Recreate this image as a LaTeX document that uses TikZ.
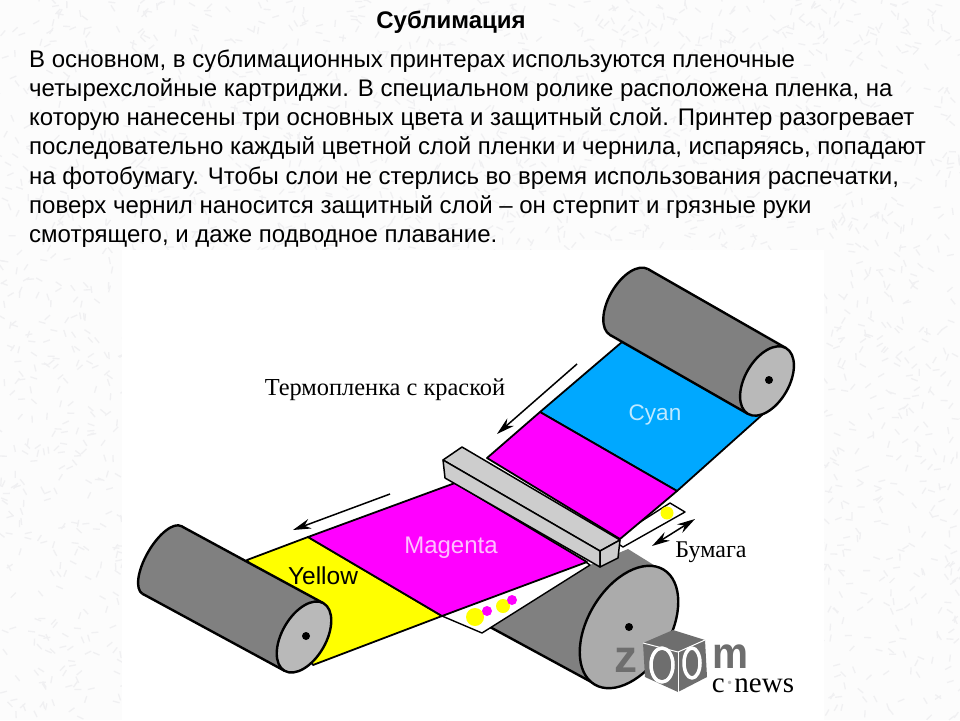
\documentclass[tikz,border=0pt]{standalone}
\usepackage{fontspec}
\setmainfont{Liberation Sans}
\newfontfamily\labelfont{Liberation Serif}
\usetikzlibrary{arrows.meta, calc}
\definecolor{pagegrey}{HTML}{FCFCFC}
\definecolor{speckle}{HTML}{F0F0F2}
\definecolor{rollerdark}{HTML}{808080}
\definecolor{rollerend}{HTML}{B9B9B9}
\definecolor{bigend}{HTML}{ABABAB}
\definecolor{bargrey}{HTML}{CDCDCD}
\definecolor{filmcyan}{HTML}{00A8FF}
\definecolor{filmmagenta}{HTML}{FF00FF}
\definecolor{filmyellow}{HTML}{FFFF00}
\definecolor{logogrey}{HTML}{6E6E6E}

\begin{document}
\begin{tikzpicture}[x=1pt, y=-1pt,
				line join=round,
				film/.style={draw=black, line width=1.8pt},
				rollerline/.style={draw=black, line width=2.4pt},
				barface/.style={draw=black, fill=bargrey, line width=1.5pt},
				motion/.style={draw=black, line width=1.5pt},
				bighead/.tip={Stealth[length=18pt, width=10pt]},
				dot/.style={circle, inner sep=0pt, minimum size=#1}]
					\useasboundingbox (0,0) rectangle (960,720);
					\fill[pagegrey] (0,0) rectangle (960,720);
					% paper texture of the page
					\pgfmathsetseed{7}
					\foreach \i in {1,...,3800}{
						\pgfmathsetmacro{\px}{960*rnd}
						\pgfmathsetmacro{\py}{720*rnd}
						\pgfmathsetmacro{\pa}{180*rnd}
						\draw[speckle, line width=1.3pt] (\px,\py) -- ++(\pa:7pt);
					}
					\fill[white] (122,250) rectangle (824,720);

					% text
					\node[font=\fontsize{24}{28}\selectfont\bfseries] (title) at (451,22) {Сублимация};
					\node[anchor=north west, align=left, inner sep=0pt,
						font=\fontsize{24}{29.05}\selectfont] (body) at (29,50) {%
						В основном, в сублимационных принтерах используются пленочные\\
						четырехслойные картриджи. В специальном ролике расположена пленка, на\\
						которую нанесены три основных цвета и защитный слой. Принтер разогревает\\
						последовательно каждый цветной слой пленки и чернила, испаряясь, попадают\\
						на фотобумагу. Чтобы слои не стерлись во время использования распечатки,\\
						поверх чернил наносится защитный слой – он стерпит и грязные руки\\
						смотрящего, и даже подводное плавание.};

					% big roller under the paper
					\fill[rollerdark] (628,549) -- (657,567) -- (595,684) -- (490,627) -- (590,565) -- cycle;
					\draw[rollerline] (490,627) -- (595,684);
					\draw[rollerline, fill=bigend, shift={(629,627)}, rotate=59] (0,0) ellipse [x radius=67pt, y radius=41pt];
					\fill[black] (629,627) circle (4);

					% paper
					\draw[film, line width=1.4pt, fill=white] (442,616) -- (482,633) -- (590,565) -- (583,560) -- cycle;
					\draw[film, line width=1.4pt, fill=white] (670,503) -- (685,512) -- (623,547) -- (612,540) -- cycle;
					\node[dot=13pt, fill=filmyellow] (dotA) at (667,513) {};
					\node[dot=18pt, fill=filmyellow] (dotB) at (475,617) {};
					\node[dot=14pt, fill=filmyellow] (dotC) at (503,606) {};
					\node[dot=10pt, fill=filmmagenta] (dotD) at (487,611) {};
					\node[dot=10pt, fill=filmmagenta] (dotE) at (512,600) {};

					% film
					\draw[film, fill=filmcyan] (622,342) -- (762,415) -- (677,491) -- (540,412) -- cycle;
					\draw[film, fill=filmmagenta] (487,458) -- (540,412) -- (677,491) -- (620,539) -- cycle;
					\draw[film, fill=filmyellow] (247,560) -- (308,537) -- (442,616) -- (313,665) -- cycle;
					\draw[film, fill=filmmagenta] (308,537) -- (455,483) -- (587,562) -- (442,616) -- cycle;

					% rollers of the film
					\foreach \cx/\cy/\dx/\dy/\ra/\rb/\rf/\name in {304/637/142/77/39/22/16/left, 767/381/138/79/38/22/20/right}{
						\coordinate (near\name) at (\cx,\cy);
						\coordinate (far\name) at ({\cx-\dx},{\cy-\dy});
						\coordinate (nearup\name) at ($(near\name)+(60:\ra pt)$);
						\coordinate (neardown\name) at ($(near\name)+(240:\ra pt)$);
						\coordinate (farup\name) at ($(far\name)+(60:\ra pt)$);
						\coordinate (fardown\name) at ($(far\name)+(240:\ra pt)$);
						\draw[rollerline, fill=rollerdark, shift={(far\name)}, rotate=60] (0,0) ellipse [x radius=\ra pt, y radius=\rf pt];
						\fill[rollerdark] (farup\name) -- (nearup\name) -- (neardown\name) -- (fardown\name) -- cycle;
						\draw[rollerline] (farup\name) -- (nearup\name);
						\draw[rollerline] (fardown\name) -- (neardown\name);
						\draw[rollerline, fill=rollerend, shift={(near\name)}, rotate=60] (0,0) ellipse [x radius=\ra pt, y radius=\rb pt];
						\fill[black] (\cx+2,\cy-1) circle (4);
					}

					% heating bar
					\draw[barface] (443,460) -- (462,447) -- (620,540) -- (600,551) -- cycle;
					\draw[barface] (443,460) -- (600,551) -- (600,567) -- (445,478) -- cycle;
					\draw[barface] (600,551) -- (620,540) -- (618,558) -- (600,567) -- cycle;

					% motion arrows
					\coordinate (upperfrom) at (577,364);
					\coordinate (upperto) at (497,434);
					\coordinate (lowerfrom) at (390,494);
					\coordinate (lowerto) at (293,530);
					\coordinate (paperfrom) at (652,546);
					\coordinate (paperto) at (695,519);
					\draw[motion, -bighead] (upperfrom) -- (upperto);
					\draw[motion, -bighead] (lowerfrom) -- (lowerto);
					\draw[motion, bighead-bighead] (paperfrom) -- (paperto);

					% labels
					\node[font=\labelfont\fontsize{24.4}{26}\selectfont] (filmlabel) at (385,390) {Термопленка с краской};
					\node[font=\labelfont\fontsize{24}{26}\selectfont] (paperlabel) at (711,552) {Бумага};
					\node[font=\fontsize{24.5}{26}\selectfont] (yellowlabel) at (323,576) {Yellow};
					\node[font=\fontsize{24}{26}\selectfont, text=filmmagenta!25!white] (magentalabel) at (451,548) {Magenta};
					\node[font=\fontsize{22.5}{26}\selectfont, text=filmcyan!25!white] (cyanlabel) at (655,415) {Cyan};

					% logo
					\node[font=\fontsize{46}{46}\selectfont\bfseries, text=logogrey, inner sep=0pt] (logoz) at (626,660) {z};
					\node[font=\fontsize{44}{44}\selectfont\bfseries, text=logogrey, inner sep=0pt, xscale=0.92] (logom) at (730,657) {m};
					\fill[logogrey] (673,630) -- (705,640) -- (707,677) -- (678,692) -- (645,677) -- (643,643) -- cycle;
					\draw[white, line width=1pt] (643,643) -- (678,652) -- (705,640);
					\draw[white, line width=1pt] (678,652) -- (678,692);
					\draw[white, line width=3.5pt, fill=logogrey] (662,665) ellipse [x radius=11pt, y radius=17pt];
					\draw[white, line width=3.5pt, fill=logogrey] (692,663) ellipse [x radius=8pt, y radius=15pt];
					\node[font=\labelfont\fontsize{29}{30}\selectfont, inner sep=0pt] (logonews) at (753,686) {c\textcolor{logogrey!50}{·}news};
				\end{tikzpicture}
\end{document}
